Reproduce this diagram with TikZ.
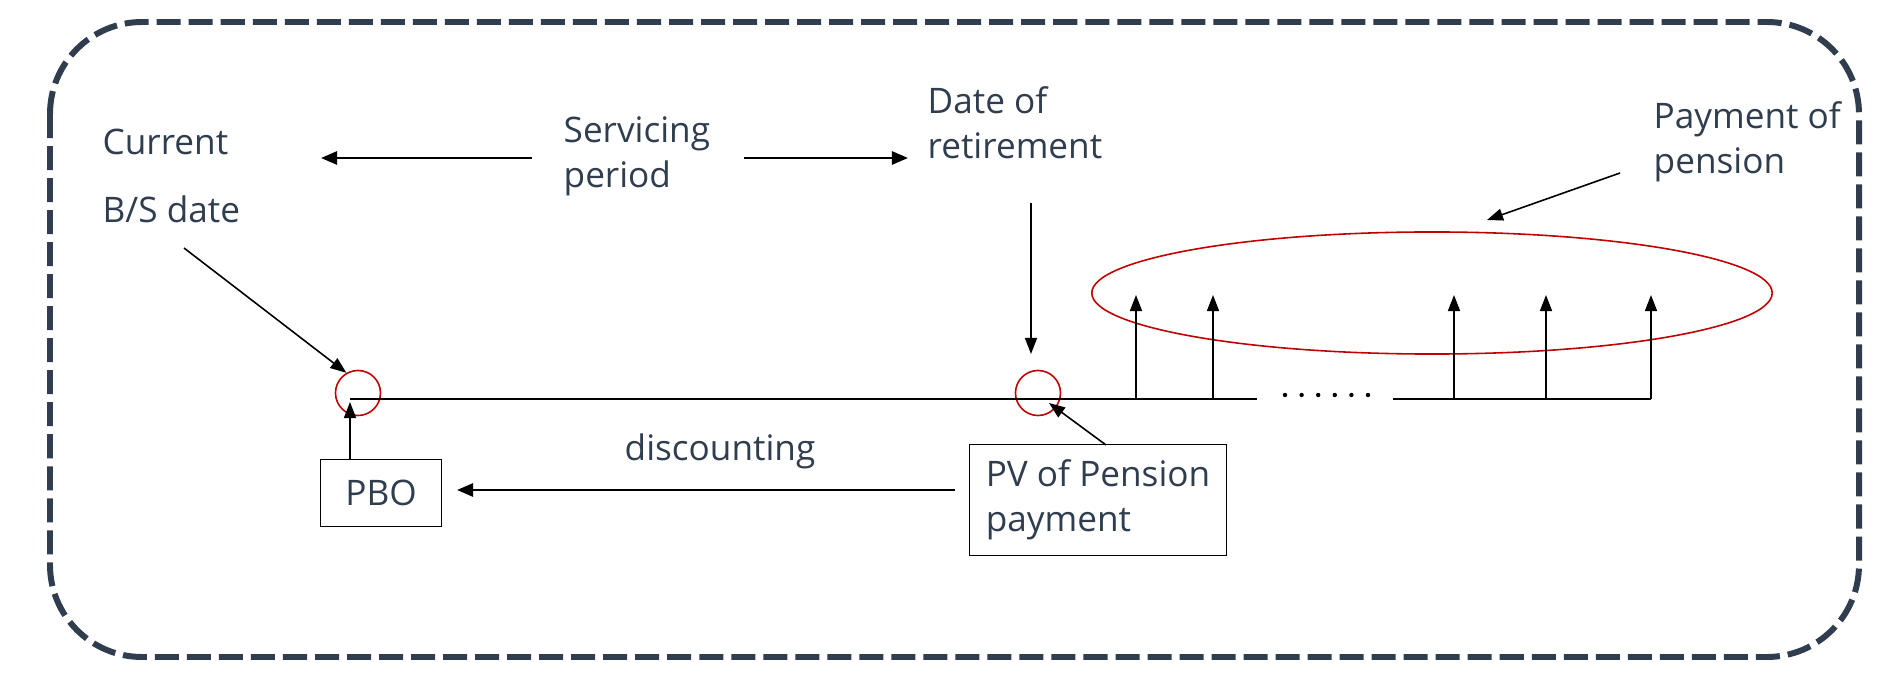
\documentclass[tikz,border=0pt]{standalone}
\usepackage{fontspec}
\setmainfont{Open Sans}
\usetikzlibrary{arrows.meta,shapes.geometric}
\definecolor{slate}{HTML}{2F3D4E}
\definecolor{ringred}{HTML}{C00000}
\tikzset{
  txt/.style={text=slate, inner sep=0pt, align=left, font=\fontsize{10}{12.8}\selectfont},
  box/.style={draw=black, line width=0.45pt, text=slate, inner sep=0pt, font=\fontsize{10}{12.8}\selectfont},
  ring/.style={shape=circle, draw=ringred, line width=0.45pt, minimum size=0.45cm, inner sep=0pt},
  oval/.style={shape=ellipse, draw=ringred, line width=0.45pt, minimum width=6.8cm, minimum height=1.22cm, inner sep=0pt},
  frame/.style={draw=slate, line width=1.7pt, dash pattern=on 0.24cm off 0.08cm, rounded corners=0.92cm},
  arr/.style={draw=black, line width=0.45pt, -{Triangle[length=0.16cm,width=0.12cm]}},
  bigarr/.style={draw=black, line width=0.75pt, -{Triangle[length=0.16cm,width=0.13cm]}},
  axis/.style={draw=black, line width=0.7pt}
}
\begin{document}
\begin{tikzpicture}[x=0.01cm, y=-0.01cm]
\useasboundingbox (0,0) rectangle (1884,688);
\draw[frame] (50,22) rectangle (1859,657);

% labels
\node[txt, anchor=base west] (cur) at (102,155) {Current};
\node[txt, anchor=base west] (bs) at (102,222) {B/S date};
\node[txt, anchor=base west] (serv) at (563,188) {Servicing\\period};
\node[txt, anchor=base west] (ret) at (927,159) {Date of\\retirement};
\node[txt, anchor=base west] (pay) at (1653,174) {Payment of\\pension};
\node[txt, anchor=base west] (disc) at (624,460) {discounting};

% marks on the time line
\node[ring] (c1) at (358,393) {};
\node[ring] (c2) at (1038,393) {};
\node[oval] (cash) at (1432,293) {};

\node[box, minimum width=1.21cm, minimum height=0.67cm] (pbo) at (381,493) {PBO};
\node[box, minimum width=2.57cm, minimum height=1.11cm, align=left] (pv) at (1098,500) {PV of Pension\\payment};

\coordinate (t0) at (350,399);
\coordinate (t1) at (1257,399);
\coordinate (t2) at (1393,399);
\coordinate (t3) at (1651,399);
\draw[axis] (t0) -- (t1);
\draw[axis] (t2) -- (t3);
\foreach \i in {0,...,5}
  \fill (1285+16.6*\i,395) circle[radius=0.022cm];

\foreach \x [count=\i] in {1136,1213,1454,1546,1651} {
  \coordinate (p\i) at (\x,399);
  \coordinate (q\i) at (\x,295);
  \draw[arr] (p\i) -- (q\i);
}

\coordinate (sl) at (532,158);
\coordinate (sltip) at (321,158);
\coordinate (sr) at (744,158);
\coordinate (srtip) at (908,158);
\coordinate (bsfoot) at (184,248);
\coordinate (retfoot) at (1031,203);
\coordinate (rettip) at (1031,354);
\coordinate (payfoot) at (1620,173);
\coordinate (paytip) at (1487,220);
\coordinate (pvfoot) at (1106,445);
\coordinate (pvtip) at (1049,403);
\coordinate (pbofoot) at (350,460);
\coordinate (pbotip) at (350,402);
\coordinate (dfoot) at (955,490);
\coordinate (dtip) at (457,490);

\draw[bigarr] (sl) -- (sltip);
\draw[bigarr] (sr) -- (srtip);
\draw[arr] (bsfoot) -- (c1.120);
\draw[arr] (retfoot) -- (rettip);
\draw[arr] (payfoot) -- (paytip);
\draw[arr] (pvfoot) -- (pvtip);
\draw[arr] (pbofoot) -- (pbotip);
\draw[bigarr] (dfoot) -- (dtip);
\end{tikzpicture}
\end{document}
